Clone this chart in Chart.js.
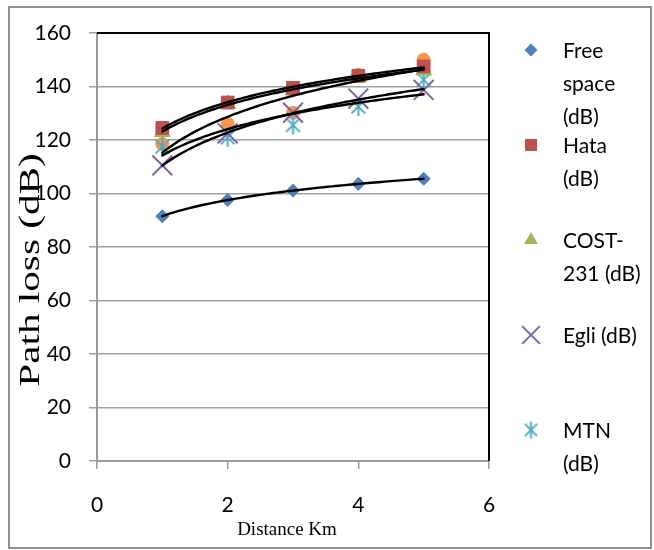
<!DOCTYPE html>
<html><head><meta charset="utf-8">
<script src="https://cdn.jsdelivr.net/npm/chart.js@4/dist/chart.umd.min.js"></script>
<style>html,body{margin:0;padding:0;background:#fff}#wrap{position:relative;width:654px;height:550px}</style>
</head><body><div id="wrap"><canvas id="c" width="654" height="550"></canvas></div>
<script>
const distanceKm=[1,2,3,4,5];
const freeSpace=[91.5,97.6,101.1,103.6,105.5];
const hata=[124.5,134,139.5,144,147.5];
const cost231=[123,133.5,138.5,143.5,146];
const egli=[110.5,122.5,130.2,135.5,138.7];
const mtn=[117.5,121,125.6,132.5,142.5];
const measured=[118.5,126,130.2,144.3,150];
const yTickValues=[0,20,40,60,80,100,120,140,160];
const xTickValues=[0,2,4,6];
const legendLines=[["Free","space","(dB)"],["Hata","(dB)"],["COST-","231 (dB)"],["Egli (dB)"],["MTN","(dB)"]];
const xTitle="Distance Km";
const yTitle="Path loss (dB)";

function asterisk(size,color,lw){
  const c=document.createElement('canvas');c.width=size;c.height=size;
  const g=c.getContext('2d');const m=size/2,r=size/2-1,d=r*0.72;
  g.strokeStyle=color;g.lineWidth=lw;g.beginPath();
  g.moveTo(m,m-r);g.lineTo(m,m+r);
  g.moveTo(m-d,m-d);g.lineTo(m+d,m+d);
  g.moveTo(m+d,m-d);g.lineTo(m-d,m+d);
  g.stroke();return c;
}
const mtnMarker=asterisk(21,'#4BACC6',2);
const mtnLegend=asterisk(19,'#4BACC6',2);

const pts=a=>distanceKm.map((x,i)=>({x:x,y:a[i]}));
const datasets=[
 {label:'Free space (dB)',data:pts(freeSpace),pointStyle:'rectRot',pointRadius:6.5,backgroundColor:'#4F81BD',borderColor:'#4A7EBB',borderWidth:1},
 {label:'Hata (dB)',data:pts(hata),pointStyle:'rect',pointRadius:9,backgroundColor:'#C0504D',borderColor:'#BE4B48',borderWidth:1},
 {label:'COST-231 (dB)',data:pts(cost231),pointStyle:'triangle',pointRadius:9,backgroundColor:'#9BBB59',borderColor:'#98B954',borderWidth:1},
 {label:'Egli (dB)',data:pts(egli),pointStyle:'crossRot',pointRadius:14,backgroundColor:'#8064A2',borderColor:'#8064A2',borderWidth:2},
 {label:'MTN (dB)',data:pts(mtn),pointStyle:mtnMarker,pointRadius:10,backgroundColor:'#4BACC6',borderColor:'#4BACC6',borderWidth:2},
 {label:'Measured',data:pts(measured),pointStyle:'circle',pointRadius:6.5,backgroundColor:'#F79646',borderColor:'#F79646',borderWidth:1}
];
const legendStyles=[
 {pointStyle:'rectRot',radius:6.5,fill:'#4F81BD'},
 {pointStyle:'rect',radius:8.5,fill:'#C0504D'},
 {pointStyle:'triangle',radius:8,fill:'#9BBB59'},
 {pointStyle:'crossRot',radius:12.5,fill:'#8064A2'},
 {pointStyle:mtnLegend,radius:9,fill:'#4BACC6'}
];

const decor={
 id:'decor',
 beforeDraw(chart){const ctx=chart.ctx;ctx.save();ctx.fillStyle='#fff';ctx.fillRect(0,0,chart.width,chart.height);
  ctx.strokeStyle='#8e8e8e';ctx.lineWidth=2;ctx.strokeRect(9,7,642,541);ctx.restore();},
 beforeDatasetsDraw(chart){const {ctx,chartArea:a}=chart;ctx.save();ctx.strokeStyle='#000';ctx.lineWidth=2;
  ctx.beginPath();ctx.moveTo(a.left,a.top);ctx.lineTo(a.right,a.top);ctx.lineTo(a.right,a.bottom);ctx.stroke();ctx.restore();},
 afterDatasetsDraw(chart){
  const ctx=chart.ctx,xs=chart.scales.x,ys=chart.scales.y;
  ctx.save();ctx.strokeStyle='#000';ctx.lineWidth=2.4;ctx.lineCap='round';
  chart.data.datasets.forEach(ds=>{
   const p=ds.data,n=p.length;let sx=0,sy=0,sxx=0,sxy=0;
   p.forEach(q=>{const l=Math.log(q.x);sx+=l;sy+=q.y;sxx+=l*l;sxy+=l*q.y;});
   const a=(n*sxy-sx*sy)/(n*sxx-sx*sx),b=(sy-a*sx)/n;
   const x0=p[0].x,x1=p[n-1].x;ctx.beginPath();
   for(let k=0;k<=80;k++){const xv=x0+(x1-x0)*k/80;const px=xs.getPixelForValue(xv),py=ys.getPixelForValue(a*Math.log(xv)+b);
    if(k)ctx.lineTo(px,py);else ctx.moveTo(px,py);}
   ctx.stroke();
  });
  ctx.restore();
 },
 afterDraw(chart){
  const ctx=chart.ctx;ctx.save();
  const mx=531,tx=563,step=95,pitch=33;let top=50;
  ctx.font='21px Lato';ctx.fillStyle='#000';ctx.textAlign='left';ctx.textBaseline='alphabetic';
  legendLines.forEach((lines,i)=>{
   const y=top+i*step;const st=legendStyles[i];
   ctx.fillStyle=st.fill;ctx.strokeStyle=st.fill;ctx.lineWidth=2;
   Chart.helpers.drawPoint(ctx,{pointStyle:st.pointStyle,radius:st.radius,rotation:0,borderWidth:st.pointStyle==='crossRot'?2:0},mx,y);
   ctx.fillStyle='#000';
   lines.forEach((t,j)=>ctx.fillText(t,tx,y+8+j*pitch));
  });
  ctx.fillStyle='#000';ctx.textAlign='center';ctx.textBaseline='middle';
  ctx.font='19px "Liberation Serif"';ctx.fillText(xTitle,287,530);
  ctx.textBaseline='alphabetic';
  ctx.translate(39,270);ctx.rotate(-Math.PI/2);ctx.scale(1.42,1);ctx.font='29px "Liberation Serif"';ctx.fillText(yTitle,0,0);
  ctx.restore();
 }
};

new Chart(document.getElementById('c'),{
 type:'scatter',
 data:{datasets:datasets},
 plugins:[decor],
 options:{
  responsive:false,animation:false,devicePixelRatio:1,
  layout:{padding:{top:33,right:165,bottom:0,left:0}},
  plugins:{legend:{display:false},tooltip:{enabled:false}},
  scales:{
   x:{type:'linear',min:0,max:6,
    afterBuildTicks:s=>{s.ticks=xTickValues.map(v=>({value:v}));},
    afterFit:s=>{s.height=89;},
    grid:{display:true,drawOnChartArea:false,drawTicks:true,tickLength:8,color:'#9a9a9a',lineWidth:1.5},
    border:{display:true,color:'#9a9a9a',width:2},
    ticks:{font:{family:'Lato',size:21},color:'#000',padding:24,maxRotation:0}
   },
   y:{type:'linear',min:0,max:160,
    afterBuildTicks:s=>{s.ticks=yTickValues.map(v=>({value:v}));},
    afterFit:s=>{s.width=97;},
    grid:{display:true,drawTicks:true,tickLength:8,color:'#a0a0a0',lineWidth:1.5},
    border:{display:true,color:'#9a9a9a',width:2},
    ticks:{font:{family:'Lato',size:21},color:'#000',padding:18}
   }
  }
 }
});
</script></body></html>
